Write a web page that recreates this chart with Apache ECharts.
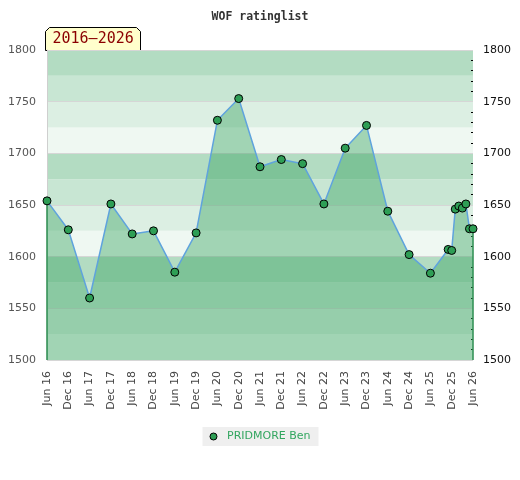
<!DOCTYPE html>
<html>
<head>
<meta charset="utf-8">
<script src="https://cdn.jsdelivr.net/npm/echarts@6/dist/echarts.min.js"></script>
<style>html,body{margin:0;padding:0;background:#fff}#c{width:520px;height:480px}</style>
</head>
<body>
<div id="c"></div>
<script>
// ---- data ----
const dates = ['2016-06','2016-12','2017-06','2017-12','2018-06','2018-12','2019-06','2019-12',
  '2020-06','2020-12','2021-06','2021-12','2022-06','2022-12','2023-06','2023-12','2024-06',
  '2024-12','2025-06','2025-11','2025-12','2026-01','2026-02','2026-03','2026-04','2026-05','2026-06'];
const ratings = [1654,1626,1560,1651,1622,1625,1585,1623,1732,1753,1687,1694,1690,1651,1705,1727,1644,
  1602,1584,1607,1606,1646,1649,1647,1651,1627,1627];
const xTickLabels = ['Jun 16','Dec 16','Jun 17','Dec 17','Jun 18','Dec 18','Jun 19','Dec 19','Jun 20','Dec 20',
  'Jun 21','Dec 21','Jun 22','Dec 22','Jun 23','Dec 23','Jun 24','Dec 24','Jun 25','Dec 25','Jun 26'];
const yTicks = [1500,1550,1600,1650,1700,1750,1800];
const playerName = 'PRIDMORE Ben';
const chartTitle = 'WOF ratinglist';
const periodLabel = '2016–2026';

function monthIndex(s){ const [y,m]=s.split('-').map(Number); return (y-2016)*12 + (m-6); }
const points = dates.map((d,i)=>[monthIndex(d), ratings[i]]);
const first = points[0], last = points[points.length-1];
const yMin = yTicks[0], yMax = yTicks[yTicks.length-1];
const plain = v => String(v);

const chart = echarts.init(document.getElementById('c'), null, {renderer:'canvas'});
chart.setOption({
  animation:false,
  title:{text:chartTitle,left:'center',top:6,textStyle:{fontFamily:'DejaVu Sans Mono',fontSize:11.5,fontWeight:'bold',color:'#333'}},
  grid:{left:47,right:47,top:50,bottom:120},
  legend:{bottom:34,left:'center',icon:'circle',itemWidth:7,itemHeight:7,backgroundColor:'#efefef',
    padding:[4,8,4,7],itemStyle:{borderWidth:1,borderColor:'#000'},
    textStyle:{color:'#33a660',fontFamily:'DejaVu Sans',fontSize:11,padding:[0,0,0,5]},
    data:[playerName]},
  xAxis:{type:'value',min:0,max:(xTickLabels.length-1)*6,interval:6,
    axisLine:{show:false},axisTick:{show:false},splitLine:{show:false},
    axisLabel:{rotate:90,margin:11,color:'#444',fontFamily:'DejaVu Sans',fontSize:11,
      formatter:v=>xTickLabels[Math.round(v/6)]||''}},
  yAxis:[
    {type:'value',position:'left',min:yMin,max:yMax,interval:50,
      axisLine:{show:true,lineStyle:{color:'#cfcfcf'}},axisTick:{show:false},
      axisLabel:{color:'#555',fontFamily:'DejaVu Sans',fontSize:11,margin:11,formatter:plain},
      splitLine:{show:true,lineStyle:{color:'#d6d6d6',width:1}},z:3},
    {type:'value',position:'right',min:yMin,max:yMax,interval:50,
      axisLine:{show:false},
      axisTick:{show:true,inside:true,length:4,lineStyle:{color:'#000'}},
      minorTick:{show:true,splitNumber:5,length:2,lineStyle:{color:'#000'}},
      axisLabel:{color:'#111',fontFamily:'DejaVu Sans',fontSize:11,margin:10,formatter:plain},
      splitLine:{show:false}},
    {type:'value',position:'left',min:yMin,max:yMax,interval:25,
      axisLine:{show:false},axisTick:{show:false},axisLabel:{show:false},splitLine:{show:false},
      splitArea:{show:true,areaStyle:{color:['#eff8f2','#dcefe3','#c8e6d3','#b3dcc2']}}}
  ],
  graphic:[{type:'group',left:45,top:27,z:100,children:[
    {type:'polygon',shape:{points:[[0,4],[4,0],[91,0],[95,4],[95,23],[0,23]]},
      style:{fill:'#ffffcc',stroke:'#000',lineWidth:1}},
    {type:'text',x:7,y:4,style:{text:periodLabel,fill:'#8b0000',font:'15px "DejaVu Sans Mono"'}}
  ]}],
  series:[{
    name:playerName,type:'line',yAxisIndex:0,data:points,
    symbol:'circle',symbolSize:8,
    itemStyle:{color:'#2e9e55',borderColor:'#000',borderWidth:1},
    lineStyle:{color:'#5fa3dd',width:1.5},
    areaStyle:{color:'rgba(48,160,90,0.58)',origin:'start'},
    markLine:{silent:true,symbol:'none',label:{show:false},
      lineStyle:{color:'#2b8a4e',width:1.5,type:'solid'},
      data:[[{coord:[first[0],yMin]},{coord:[first[0],first[1]]}],
            [{coord:[last[0],yMin]},{coord:[last[0],last[1]]}]]},
    z:5
  }]
});
</script>
</body>
</html>
